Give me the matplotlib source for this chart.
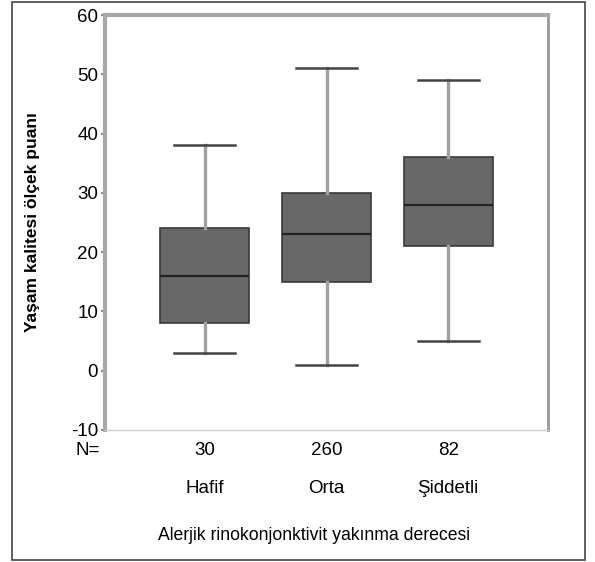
import matplotlib
matplotlib.use("Agg")
import matplotlib.pyplot as plt
from matplotlib.patches import Rectangle

categories = ["Hafif", "Orta", "Şiddetli"]
n_values = ["30", "260", "82"]
whisker_low = [3, 1, 5]
q1 = [8, 15, 21]
median = [16, 23, 28]
q3 = [24, 30, 36]
whisker_high = [38, 51, 49]
yticks = [-10, 0, 10, 20, 30, 40, 50, 60]

plt.rcParams['font.family'] = ['Liberation Sans', 'DejaVu Sans']

fig = plt.figure(figsize=(5.95, 5.62), dpi=100)
ax = fig.add_axes([0.1765, 0.2349, 0.7445, 0.7384])

stats = []
for i in range(len(categories)):
    stats.append(dict(whislo=whisker_low[i], q1=q1[i], med=median[i], q3=q3[i],
                      whishi=whisker_high[i], fliers=[], label=categories[i]))

ax.bxp(stats, positions=[1, 2, 3], widths=0.73, patch_artist=True, showfliers=False,
       boxprops=dict(facecolor="#686868", edgecolor="#3a3a3a", linewidth=1.2),
       medianprops=dict(color="#222222", linewidth=1.6),
       whiskerprops=dict(color="#a0a0a0", linewidth=2.4),
       capprops=dict(color="#444444", linewidth=1.8),
       capwidths=0.5)

ax.set_xlim(0.18, 3.82)
ax.set_ylim(-10, 60)
ax.set_yticks(yticks)
ax.set_yticklabels([str(t) for t in yticks], fontsize=13.5)
ax.set_xticks([])
ax.tick_params(axis='y', direction='out', length=3, width=1.5, color="#888888", pad=2)

for side in ['left', 'top']:
    ax.spines[side].set_color("#a8a8a8")
    ax.spines[side].set_linewidth(3)
ax.spines['right'].set_color("#999999")
ax.spines['right'].set_linewidth(2)
ax.spines['bottom'].set_color("#cccccc")
ax.spines['bottom'].set_linewidth(1)

ax.set_ylabel("Yaşam kalitesi ölçek puanı", fontsize=12.5, fontweight='bold')
ax.yaxis.set_label_coords(-0.146, 0.5)

trans = ax.get_xaxis_transform()
ax.text(-0.038, -0.05, "N=", transform=ax.transAxes, ha='center', va='center', fontsize=13.5)
for i, n in enumerate(n_values):
    ax.text(i + 1, -0.05, n, transform=trans, ha='center', va='center', fontsize=13.5)
    ax.text(i + 1, -0.14, categories[i], transform=trans, ha='center', va='center', fontsize=13.5)
fig.text(314 / 595, 1 - 535 / 562, "Alerjik rinokonjonktivit yakınma derecesi",
         ha='center', va='center', fontsize=12.7)

fig.patches.append(Rectangle((12 / 595, 2 / 562), 573 / 595, 558 / 562, transform=fig.transFigure,
                             fill=False, edgecolor="#444444", linewidth=1.2))

fig.savefig("out.png", dpi=100)
